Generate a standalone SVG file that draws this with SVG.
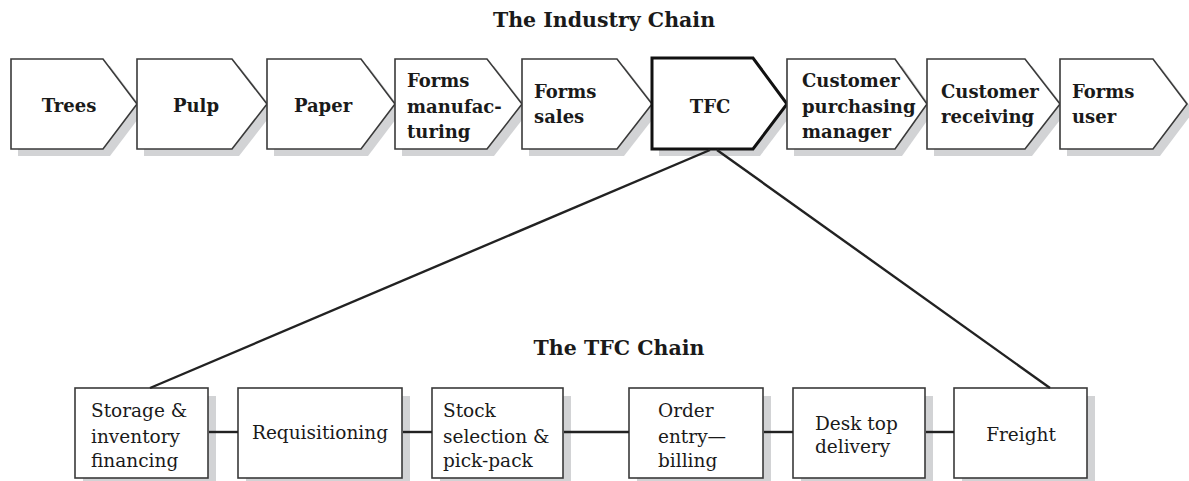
<svg xmlns="http://www.w3.org/2000/svg" width="1189" height="481" viewBox="0 0 1189 481">
  <style>
    .title { font-family: "DejaVu Serif", "Liberation Serif", serif; font-weight: bold; font-size: 20.5px; fill: #1a1a1a; text-anchor: middle; }
    .top { font-family: "DejaVu Serif", "Liberation Serif", serif; font-weight: bold; font-size: 18px; fill: #1a1a1a; }
    .low { font-family: "DejaVu Serif", "Liberation Serif", serif; font-size: 18.5px; fill: #1a1a1a; }
    .mid { text-anchor: middle; }
    .shape { fill: #ffffff; stroke: #3a3a3a; stroke-width: 1.6; stroke-linejoin: miter; }
    .focus { fill: #ffffff; stroke: #111111; stroke-width: 3; stroke-linejoin: miter; }
    .shadow { fill: #d2d3d5; }
    .wire { stroke: #222222; stroke-width: 2.4; fill: none; }
  </style>

  <rect width="1189" height="481" fill="#ffffff"/>

  <text class="title" x="604" y="27">The Industry Chain</text>
  <text class="title" x="619" y="355">The TFC Chain</text>

  <!-- industry chain: chevrons abut tip-to-edge, shadows offset 7px -->
  <g id="trees">
    <path class="shadow" d="M18,66 H110 L144,111 L110,156 H18 Z"/>
    <path class="shape" d="M11,59 H103 L137,104 L103,149 H11 Z"/>
    <text class="top mid" x="69" y="112">Trees</text>
  </g>
  <g id="pulp">
    <path class="shadow" d="M144,66 H239 L274,111 L239,156 H144 Z"/>
    <path class="shape" d="M137,59 H232 L267,104 L232,149 H137 Z"/>
    <text class="top mid" x="196" y="112">Pulp</text>
  </g>
  <g id="paper">
    <path class="shadow" d="M274,66 H368 L402,111 L368,156 H274 Z"/>
    <path class="shape" d="M267,59 H361 L395,104 L361,149 H267 Z"/>
    <text class="top mid" x="323" y="112">Paper</text>
  </g>
  <g id="forms-manufacturing">
    <path class="shadow" d="M402,66 H494 L529,111 L494,156 H402 Z"/>
    <path class="shape" d="M395,59 H487 L522,104 L487,149 H395 Z"/>
    <text class="top" x="407" y="87">Forms</text>
    <text class="top" x="407" y="113">manufac-</text>
    <text class="top" x="407" y="138">turing</text>
  </g>
  <g id="forms-sales">
    <path class="shadow" d="M529,66 H624 L659,111 L624,156 H529 Z"/>
    <path class="shape" d="M522,59 H617 L652,104 L617,149 H522 Z"/>
    <text class="top" x="534" y="98">Forms</text>
    <text class="top" x="534" y="123">sales</text>
  </g>
  <g id="tfc">
    <path class="shadow" d="M659,66 H760 L794,111 L760,156 H659 Z"/>
    <path class="focus" d="M652,58 H753 L787,104 L753,149 H652 Z"/>
    <text class="top mid" x="710" y="113">TFC</text>
  </g>
  <g id="customer-purchasing">
    <path class="shadow" d="M794,66 H902 L934,111 L902,156 H794 Z"/>
    <path class="shape" d="M787,59 H895 L927,104 L895,149 H787 Z"/>
    <text class="top" x="802" y="87">Customer</text>
    <text class="top" x="802" y="113">purchasing</text>
    <text class="top" x="802" y="138">manager</text>
  </g>
  <g id="customer-receiving">
    <path class="shadow" d="M934,66 H1032 L1067,111 L1032,156 H934 Z"/>
    <path class="shape" d="M927,59 H1025 L1060,104 L1025,149 H927 Z"/>
    <text class="top" x="941" y="98">Customer</text>
    <text class="top" x="941" y="123">receiving</text>
  </g>
  <g id="forms-user">
    <path class="shadow" d="M1067,66 H1160 L1194,111 L1160,156 H1067 Z"/>
    <path class="shape" d="M1060,59 H1153 L1187,104 L1153,149 H1060 Z"/>
    <text class="top" x="1072" y="98">Forms</text>
    <text class="top" x="1072" y="123">user</text>
  </g>

  <!-- TFC chain -->
  <g id="storage">
    <rect class="shadow" x="83" y="396" width="133" height="90"/>
    <rect class="shape" x="75" y="388" width="133" height="90"/>
    <text class="low" x="91" y="417">Storage &amp;</text>
    <text class="low" x="91" y="443">inventory</text>
    <text class="low" x="91" y="467">financing</text>
  </g>
  <g id="requisitioning">
    <rect class="shadow" x="246" y="396" width="164" height="90"/>
    <rect class="shape" x="238" y="388" width="164" height="90"/>
    <text class="low mid" x="320" y="439">Requisitioning</text>
  </g>
  <g id="stock-selection">
    <rect class="shadow" x="440" y="396" width="131" height="90"/>
    <rect class="shape" x="432" y="388" width="131" height="90"/>
    <text class="low" x="443" y="417">Stock</text>
    <text class="low" x="443" y="443">selection &amp;</text>
    <text class="low" x="443" y="467">pick-pack</text>
  </g>
  <g id="order-entry">
    <rect class="shadow" x="637" y="396" width="134" height="90"/>
    <rect class="shape" x="629" y="388" width="134" height="90"/>
    <text class="low" x="658" y="417">Order</text>
    <text class="low" x="658" y="443">entry—</text>
    <text class="low" x="658" y="467">billing</text>
  </g>
  <g id="desk-top">
    <rect class="shadow" x="801" y="396" width="132" height="90"/>
    <rect class="shape" x="793" y="388" width="132" height="90"/>
    <text class="low" x="815" y="430">Desk top</text>
    <text class="low" x="815" y="453">delivery</text>
  </g>
  <g id="freight">
    <rect class="shadow" x="962" y="396" width="133" height="90"/>
    <rect class="shape" x="954" y="388" width="133" height="90"/>
    <text class="low mid" x="1021" y="441">Freight</text>
  </g>

  <!-- connectors, drawn over the shadows -->
  <g id="connectors">
    <line class="wire" x1="710" y1="150" x2="150" y2="388"/>
    <line class="wire" x1="717" y1="150" x2="1050" y2="388"/>
    <line class="wire" x1="209" y1="432" x2="238" y2="432"/>
    <line class="wire" x1="403" y1="432" x2="432" y2="432"/>
    <line class="wire" x1="564" y1="432" x2="629" y2="432"/>
    <line class="wire" x1="764" y1="432" x2="793" y2="432"/>
    <line class="wire" x1="926" y1="432" x2="954" y2="432"/>
  </g>
</svg>
